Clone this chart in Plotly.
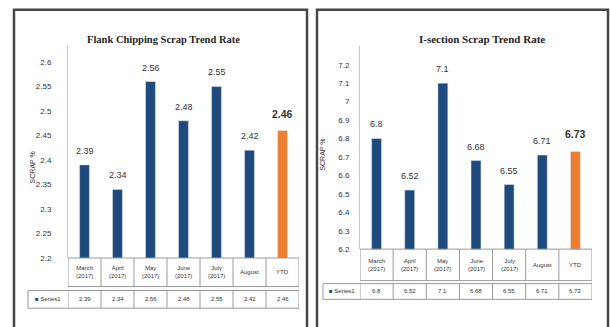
import plotly.graph_objects as go

W, H = 610, 327

categories = ["March<br>(2017)", "April<br>(2017)", "May<br>(2017)", "June<br>(2017)",
              "July<br>(2017)", "August", "YTD"]
flank_values = [2.39, 2.34, 2.56, 2.48, 2.55, 2.42, 2.46]
flank_labels = ["2.39", "2.34", "2.56", "2.48", "2.55", "2.42", "2.46"]
isection_values = [6.8, 6.52, 7.1, 6.68, 6.55, 6.71, 6.73]
isection_labels = ["6.8", "6.52", "7.1", "6.68", "6.55", "6.71", "6.73"]
flank_ticks = [2.2, 2.25, 2.3, 2.35, 2.4, 2.45, 2.5, 2.55, 2.6]
flank_ticktext = ["2.2", "2.25", "2.3", "2.35", "2.4", "2.45", "2.5", "2.55", "2.6"]
isection_ticks = [6.2, 6.3, 6.4, 6.5, 6.6, 6.7, 6.8, 6.9, 7.0, 7.1, 7.2]
isection_ticktext = ["6.2", "6.3", "6.4", "6.5", "6.6", "6.7", "6.8", "6.9", "7", "7.1", "7.2"]
series_name = "Series1"
titles = ["Flank Chipping Scrap Trend Rate", "I-section Scrap Trend Rate"]

BLUE = "#1f4a7e"
ORANGE = "#ed7d31"
GRID = "#9a9a9a"
TXT = "#333333"
FONT = "Liberation Sans Narrow, Arial Narrow, Liberation Sans, sans-serif"
SERIF = "Liberation Serif, Times New Roman, serif"


def px(x):
    return x / W


def py(y):
    return 1 - y / H


colors = [BLUE] * 6 + [ORANGE]
idx = list(range(len(categories)))

fig = go.Figure()
fig.add_trace(go.Bar(x=idx, y=flank_values, marker_color=colors, xaxis="x", yaxis="y",
                     width=0.3, showlegend=False, hoverinfo="skip"))
fig.add_trace(go.Bar(x=idx, y=isection_values, marker_color=colors, xaxis="x2", yaxis="y2",
                     width=0.3, showlegend=False, hoverinfo="skip"))

panels = [
    dict(xa="x", ya="y", xdom=(68, 299), ytop=47, ybot=262, rng=[2.2, 2.632],
         ticks=flank_ticks, ticktext=flank_ticktext, vals=flank_values, labels=flank_labels,
         cat=(262, 291), ser=(295, 313), leg=28, title_x=163, ytitle=(32, 170),
         box=(14, 307), standoff=14, tsize=10.5),
    dict(xa="x2", ya="y2", xdom=(360, 592), ytop=47, ybot=253, rng=[6.2, 7.3],
         ticks=isection_ticks, ticktext=isection_ticktext, vals=isection_values,
         labels=isection_labels, cat=(253, 285), ser=(288, 304), leg=323, title_x=482,
         ytitle=(323, 157), box=(317, 608), standoff=8, tsize=11),
]

shapes = []
annotations = []
layout_axes = {}
for k, p in enumerate(panels):
    xname = "xaxis" if k == 0 else "xaxis2"
    yname = "yaxis" if k == 0 else "yaxis2"
    layout_axes[xname] = dict(domain=[px(p["xdom"][0]), px(p["xdom"][1])], range=[-0.5, 6.5],
                              showticklabels=False, showgrid=False, zeroline=False,
                              showline=False, ticks="", anchor=p["ya"], fixedrange=True)
    layout_axes[yname] = dict(domain=[py(p["ybot"]), py(p["ytop"])], range=p["rng"],
                              tickvals=p["ticks"], ticktext=p["ticktext"], showgrid=False,
                              zeroline=False, showline=True, linecolor="#c8c8c8", linewidth=1,
                              ticks="", ticklabelstandoff=p["standoff"],
                              tickfont=dict(family=FONT, size=8, color=TXT),
                              anchor=p["xa"], fixedrange=True)
    # panel border
    shapes.append(dict(type="rect", xref="paper", yref="paper", x0=px(p["box"][0]),
                       x1=px(p["box"][1]), y0=py(340), y1=py(10),
                       line=dict(color="#474747", width=2.5), fillcolor="rgba(0,0,0,0)"))
    # title
    annotations.append(dict(text="<b>" + titles[k] + "</b>", xref="paper", yref="paper",
                            x=px(p["title_x"]), y=py(40), xanchor="center", yanchor="middle",
                            showarrow=False, font=dict(family=SERIF, size=p["tsize"],
                                                       color="#262626")))
    # axis title
    annotations.append(dict(text="SCRAP %", xref="paper", yref="paper", x=px(p["ytitle"][0]),
                            y=py(p["ytitle"][1]), textangle=-90, xanchor="center",
                            yanchor="middle", showarrow=False,
                            font=dict(family=FONT, size=7, color=TXT)))
    # data labels
    for i, (v, lab) in enumerate(zip(p["vals"], p["labels"])):
        ytd = i == len(p["vals"]) - 1
        annotations.append(dict(text=("<b>" + lab + "</b>") if ytd else lab, xref=p["xa"],
                                yref=p["ya"], x=i, y=v, yanchor="middle",
                                yshift=17 if ytd else 14, showarrow=False,
                                font=dict(family=FONT, size=10.5 if ytd else 9, color=TXT)))
    # data table
    c0, c1 = p["cat"]
    s0, s1 = p["ser"]
    for y in (c0, c1):
        shapes.append(dict(type="line", xref=p["xa"], yref="paper", x0=-0.5, x1=6.5,
                           y0=py(y), y1=py(y), line=dict(color=GRID, width=1)))
    for i in range(len(categories) + 1):
        shapes.append(dict(type="line", xref=p["xa"], yref="paper", x0=i - 0.5, x1=i - 0.5,
                           y0=py(c0), y1=py(c1), line=dict(color=GRID, width=1)))
        shapes.append(dict(type="line", xref=p["xa"], yref="paper", x0=i - 0.5, x1=i - 0.5,
                           y0=py(s0), y1=py(s1), line=dict(color=GRID, width=1)))
    for y in (s0, s1):
        shapes.append(dict(type="line", xref="paper", yref="paper", x0=px(p["leg"]),
                           x1=px(p["xdom"][1]), y0=py(y), y1=py(y),
                           line=dict(color=GRID, width=1)))
    shapes.append(dict(type="line", xref="paper", yref="paper", x0=px(p["leg"]),
                       x1=px(p["leg"]), y0=py(s0), y1=py(s1), line=dict(color=GRID, width=1)))
    for i, c in enumerate(categories):
        annotations.append(dict(text=c, xref=p["xa"], yref="paper", x=i, y=py((c0 + c1) / 2),
                                xanchor="center", yanchor="middle", showarrow=False,
                                font=dict(family=FONT, size=6, color=TXT)))
        annotations.append(dict(text=p["labels"][i], xref=p["xa"], yref="paper", x=i,
                                y=py((s0 + s1) / 2), xanchor="center", yanchor="middle",
                                showarrow=False, font=dict(family=FONT, size=6, color=TXT)))
    annotations.append(dict(text="<span style='color:%s'>■</span> %s" % (BLUE, series_name),
                            xref="paper", yref="paper",
                            x=px((p["leg"] + p["xdom"][0]) / 2), y=py((s0 + s1) / 2),
                            xanchor="center", yanchor="middle", showarrow=False,
                            font=dict(family=FONT, size=6, color=TXT)))

fig.update_layout(width=W, height=H, margin=dict(l=0, r=0, t=0, b=0),
                  paper_bgcolor="white", plot_bgcolor="white", bargap=0.7,
                  shapes=shapes, annotations=annotations, showlegend=False, **layout_axes)

fig.write_html("out.html", config={"displayModeBar": False})
